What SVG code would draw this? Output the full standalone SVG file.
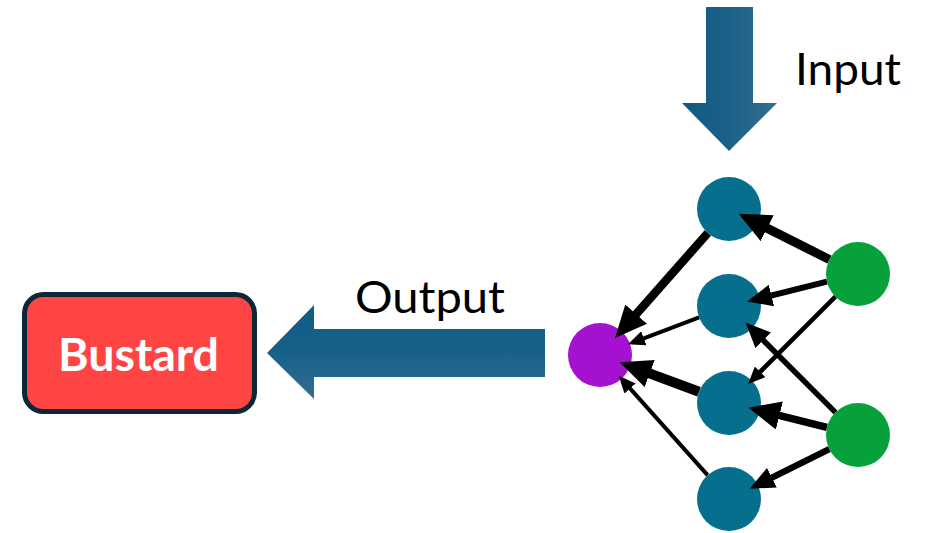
<svg xmlns="http://www.w3.org/2000/svg" width="925" height="533" viewBox="0 0 925 533">
  <style>
    .label { font-family: Lato, "Liberation Sans", sans-serif; font-size: 44px; fill: #000; }
    .hidden { fill: #066f8e; }
    .inp { fill: #06a13b; }
    .out { fill: #a511d0; }
    .edge { stroke: #000; fill: none; }
    .lg { marker-end: url(#headL); }
    .md { marker-end: url(#headM); }
    .sm { marker-end: url(#headS); }
  </style>
  <defs>
    <linearGradient id="gradDown" x1="0" y1="0" x2="1" y2="0">
      <stop offset="0" stop-color="#0f5a82"/>
      <stop offset="0.5" stop-color="#1a6188"/>
      <stop offset="1" stop-color="#346f8f"/>
    </linearGradient>
    <linearGradient id="gradLeft" x1="0" y1="0" x2="0" y2="1">
      <stop offset="0" stop-color="#0f5c84"/>
      <stop offset="0.5" stop-color="#176189"/>
      <stop offset="1" stop-color="#336f90"/>
    </linearGradient>
    <marker id="headL" viewBox="0 0 10 10" refX="5" refY="5" markerWidth="32" markerHeight="29" markerUnits="userSpaceOnUse" orient="auto" preserveAspectRatio="none">
      <path d="M0,0 L10,5 L0,10 z" fill="#000"/>
    </marker>
    <marker id="headM" viewBox="0 0 10 10" refX="5" refY="5" markerWidth="25" markerHeight="22" markerUnits="userSpaceOnUse" orient="auto" preserveAspectRatio="none">
      <path d="M0,0 L10,5 L0,10 z" fill="#000"/>
    </marker>
    <marker id="headS" viewBox="0 0 10 10" refX="5" refY="5" markerWidth="17" markerHeight="15" markerUnits="userSpaceOnUse" orient="auto" preserveAspectRatio="none">
      <path d="M0,0 L10,5 L0,10 z" fill="#000"/>
    </marker>
  </defs>

  <!-- Input arrow -->
  <g id="input-arrow">
    <polygon points="706,7 753,7 753,103 777,103 729,151 682,103 706,103" fill="url(#gradDown)"/>
    <text class="label" x="795" y="85" textLength="106" lengthAdjust="spacingAndGlyphs">Input</text>
  </g>

  <!-- Output arrow -->
  <g id="output-arrow">
    <polygon points="545,329 545,377 314,377 314,399 267,353 314,305 314,329" fill="url(#gradLeft)"/>
    <text class="label" x="355" y="313" textLength="150" lengthAdjust="spacingAndGlyphs">Output</text>
  </g>

  <!-- Result box -->
  <g id="bustard">
    <rect x="24.5" y="294.5" width="230" height="117" rx="19" ry="19" fill="#ff4444" stroke="#0c2838" stroke-width="5"/>
    <text x="58" y="371" textLength="161" lengthAdjust="spacingAndGlyphs" font-family="Lato, 'Liberation Sans', sans-serif" font-size="46" font-weight="bold" fill="#fff">Bustard</text>
  </g>

  <!-- Network nodes -->
  <g id="node-g1"><circle class="inp" cx="858" cy="274" r="32"/></g>
  <g id="node-g2"><circle class="inp" cx="858" cy="435" r="32"/></g>
  <g id="node-b1"><circle class="hidden" cx="729" cy="209" r="32"/></g>
  <g id="node-b2"><circle class="hidden" cx="729" cy="306" r="32"/></g>
  <g id="node-b3"><circle class="hidden" cx="729" cy="403" r="32"/></g>
  <g id="node-b4"><circle class="hidden" cx="729" cy="499" r="32"/></g>
  <g id="node-p"><circle class="out" cx="600" cy="355" r="32"/></g>

  <!-- Weighted connections -->
  <g id="edges">
    <line class="edge lg" x1="829.4" y1="259.6" x2="752.9" y2="221.0" stroke-width="9"/>
    <line class="edge md" x1="826.9" y1="281.7" x2="759.3" y2="298.5" stroke-width="6"/>
    <line class="edge sm" x1="835.4" y1="296.6" x2="754.1" y2="377.9" stroke-width="4.5"/>
    <line class="edge md" x1="835.4" y1="412.4" x2="754.4" y2="331.4" stroke-width="5.5"/>
    <line class="edge lg" x1="826.9" y1="427.3" x2="763.9" y2="411.6" stroke-width="7.5"/>
    <line class="edge md" x1="829.3" y1="449.2" x2="760.8" y2="483.2" stroke-width="6.5"/>
    <line class="edge lg" x1="707.8" y1="233.0" x2="625.6" y2="326.1" stroke-width="8.5"/>
    <line class="edge sm" x1="699.1" y1="317.4" x2="635.9" y2="341.3" stroke-width="4"/>
    <line class="edge lg" x1="699.0" y1="391.8" x2="634.7" y2="367.9" stroke-width="10"/>
    <line class="edge sm" x1="707.6" y1="475.2" x2="624.4" y2="382.2" stroke-width="4"/>
  </g>
</svg>
